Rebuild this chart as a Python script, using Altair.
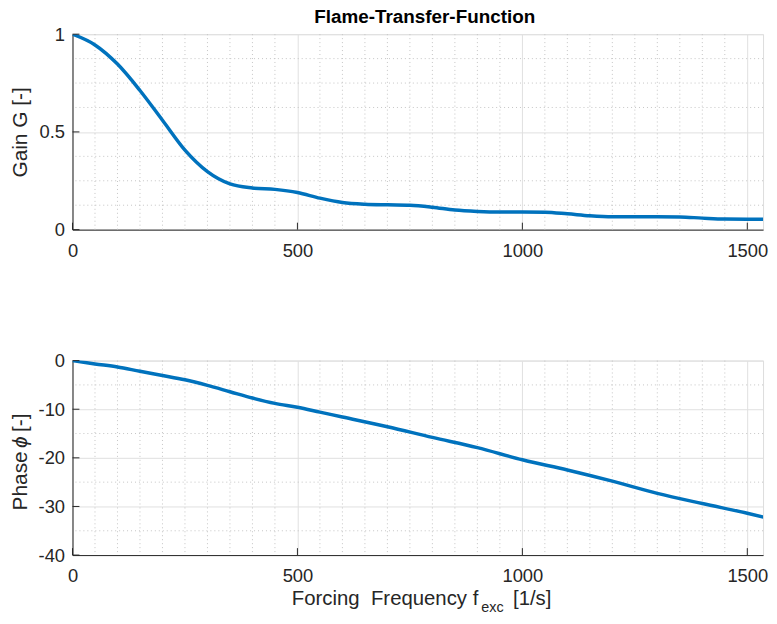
import altair as alt
import pandas as pd

# ---------------- data ----------------
gain_freq = [0, 50, 100, 150, 200, 250, 300, 350, 400, 450, 500, 550, 600, 650, 700,
             750, 800, 850, 900, 950, 1000, 1050, 1100, 1150, 1200, 1250, 1300, 1350,
             1400, 1450, 1500, 1550]
gain_vals = [1.0, 0.945, 0.847, 0.712, 0.56, 0.407, 0.297, 0.234, 0.213, 0.206, 0.19,
             0.161, 0.139, 0.13, 0.127, 0.125, 0.115, 0.10, 0.093, 0.09, 0.09, 0.089,
             0.081, 0.071, 0.066, 0.066, 0.066, 0.065, 0.059, 0.054, 0.053, 0.053]

phase_freq = [0, 50, 100, 150, 200, 250, 300, 350, 400, 450, 500, 550, 600, 700, 800,
              900, 1000, 1100, 1200, 1300, 1400, 1500, 1550]
phase_vals = [0.0, -0.68, -1.3, -2.2, -3.06, -3.95, -5.1, -6.4, -7.7, -8.8, -9.6, -10.6,
              -11.6, -13.6, -15.8, -17.9, -20.4, -22.5, -24.8, -27.3, -29.4, -31.4, -32.5]

x_ticks = [0, 500, 1000, 1500]
gain_ticks = [0, 0.5, 1]
gain_minor = [0.125, 0.25, 0.375, 0.625, 0.75, 0.875]
phase_ticks = [0, -10, -20, -30, -40]
phase_minor = [-5, -15, -25, -35]

title_text = "Flame-Transfer-Function"
gain_title = "Gain G [-]"
phase_title_parts = ["Phase", "\u03d5", "[-]"]
xlabel_main = "Forcing\u00a0 Frequency f"
xlabel_sub = "exc"
xlabel_unit = "[1/s]"

# ---------------- styling ----------------
FONT = "Liberation Sans"
TXT = "#262626"
LINE = "#0072BD"
W = 696
H1 = 197
H2 = 196
XMAX = 1535
YT_X = -46
x_minor = [v for v in range(50, XMAX + 1, 50) if v % 500 != 0]


def txt(s, x, y, size=20, align="left", angle=0, style="normal",
        weight="normal", color=TXT, baseline="alphabetic"):
    return alt.Chart(pd.DataFrame({"t": [s]})).mark_text(
        font=FONT, fontSize=size, color=color, align=align, baseline=baseline,
        angle=angle, fontStyle=style, fontWeight=weight
    ).encode(text="t:N", x=alt.value(x), y=alt.value(y))


def panel(freqs, vals, ydom, yticks, yminor, ytitle, H, extra=None):
    xs = alt.Scale(domain=[0, XMAX], nice=False, zero=False)
    ys = alt.Scale(domain=ydom, nice=False, zero=False)
    xax = alt.Axis(
        values=x_ticks, title=None, grid=True, gridColor="#e0e0e0", gridWidth=1,
        ticks=False, domainColor=TXT, domainWidth=1, labelFont=FONT,
        labelFontSize=18.5, labelColor=TXT, labelPadding=12, labelFlush=False,
        labelExpr="datum.value + ''")
    yax_kw = dict(
        values=yticks, grid=True, gridColor="#e0e0e0", gridWidth=1,
        ticks=False, domainColor=TXT, domainWidth=1, labelFont=FONT,
        labelFontSize=18.5, labelColor=TXT, labelPadding=8, labelFlush=False,
        labelExpr="datum.value + ''")
    if ytitle is not None:
        yax = alt.Axis(
            title=ytitle, titleFont=FONT, titleFontSize=21, titleFontWeight="normal",
            titleColor=TXT, titleX=YT_X, titleY=H / 2, titleAlign="center",
            titleBaseline="alphabetic", titleAngle=270, **yax_kw)
    else:
        yax = alt.Axis(title=None, **yax_kw)

    mx = alt.Chart(pd.DataFrame({"v": x_minor})).mark_rule(
        color="#c4c4c4", strokeWidth=1, strokeDash=[1, 3]
    ).encode(x=alt.X("v:Q", scale=xs, axis=xax))

    my = alt.Chart(pd.DataFrame({"v": yminor})).mark_rule(
        color="#c4c4c4", strokeWidth=1, strokeDash=[1, 3]
    ).encode(y=alt.Y("v:Q", scale=ys, axis=yax))

    df = pd.DataFrame({"f": freqs, "y": vals})
    line = alt.Chart(df).mark_line(
        color=LINE, strokeWidth=3.5, interpolate="monotone", clip=True
    ).encode(
        x=alt.X("f:Q", scale=xs, axis=xax),
        y=alt.Y("y:Q", scale=ys, axis=yax),
    )

    tx = alt.Chart(pd.DataFrame({"v": x_ticks})).mark_rule(
        color=TXT, strokeWidth=1
    ).encode(x=alt.X("v:Q", scale=xs, axis=xax),
             y=alt.value(H), y2=alt.value(H - 7))

    ty = alt.Chart(pd.DataFrame({"v": yticks})).mark_rule(
        color=TXT, strokeWidth=1
    ).encode(y=alt.Y("v:Q", scale=ys, axis=yax),
             x=alt.value(0), x2=alt.value(7))

    layers = [mx, my, line, tx, ty]
    if extra is not None:
        layers += extra
    return alt.layer(*layers).properties(width=W, height=H)


title_mark = txt(title_text, 355, -11, 19, "center", weight="bold",
                 color="#000000")
x_labels = [
    txt(xlabel_main, 409, 246, 20.5, "right"),
    txt(xlabel_sub, 412, 253, 14.5, "left"),
    txt(xlabel_unit, 444, 246, 20.5, "left"),
]
y_labels = [
    txt(phase_title_parts[0], YT_X, 151, 21, "left", 270),
    txt(phase_title_parts[1], YT_X, 88, 21, "left", 270, "italic"),
    txt(phase_title_parts[2], YT_X, 72, 21, "left", 270),
]

top = panel(gain_freq, gain_vals, [0, 1], gain_ticks, gain_minor, gain_title, H1,
            extra=[title_mark])
bottom = panel(phase_freq, phase_vals, [-40, 0], phase_ticks, phase_minor,
               None, H2, extra=x_labels + y_labels)

chart = alt.vconcat(top, bottom, spacing=132, bounds="flush").properties(
    padding={"left": 1, "top": -3, "right": 0, "bottom": -3},
).configure_view(stroke=None).configure(background="white")

chart.save("out.html", embed_options={"renderer": "svg", "actions": False})
